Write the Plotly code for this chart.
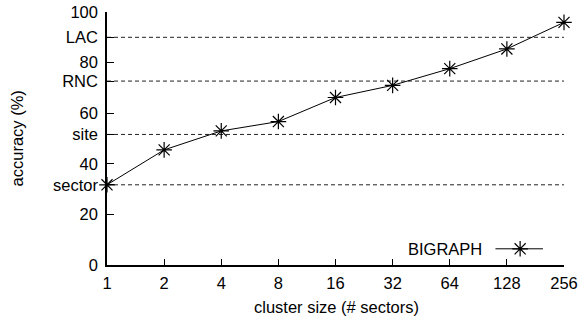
import plotly.graph_objects as go

categories = ["1", "2", "4", "8", "16", "32", "64", "128", "256"]
bigraph = [31.7, 45.5, 53.0, 56.7, 66.2, 71.0, 77.6, 85.4, 95.9]
ref_names = ["sector", "site", "RNC", "LAC"]
ref_values = [31.7, 51.6, 72.7, 90.0]
num_ticks = [0, 20, 40, 60, 80, 100]

FONT = "Liberation Sans, Arial, sans-serif"
FS = 16.5
xi = list(range(len(categories)))

fig = go.Figure()
for name, v in zip(ref_names, ref_values):
    fig.add_trace(go.Scatter(x=[xi[0], xi[-1]], y=[v, v], mode="lines",
                             line=dict(color="#222", width=1, dash="4px,3px"),
                             showlegend=False, hoverinfo="skip"))
star = dict(symbol="asterisk-open", size=13, color="black",
            line=dict(color="black", width=1.2))
fig.add_trace(go.Scatter(x=xi, y=bigraph, mode="lines+markers", name="BIGRAPH",
                         line=dict(color="black", width=1), marker=star,
                         cliponaxis=False, showlegend=False))
# custom legend sample (text on the left, then line with marker)
fig.add_trace(go.Scatter(x=[0.850, 0.954], y=[0.064, 0.064], mode="lines",
                         line=dict(color="black", width=1), xaxis="x2", yaxis="y2",
                         showlegend=False, hoverinfo="skip"))
fig.add_trace(go.Scatter(x=[0.904], y=[0.064], mode="markers", marker=star,
                         xaxis="x2", yaxis="y2", showlegend=False, hoverinfo="skip"))
fig.add_annotation(text="BIGRAPH", xref="x2", yref="y2", x=0.825, y=0.064,
                   xanchor="right", yanchor="middle", showarrow=False,
                   font=dict(family=FONT, size=FS, color="black"))
# axis titles
fig.add_annotation(text="cluster size (# sectors)", xref="paper", yref="paper",
                   x=0.502, y=-0.166, xanchor="center", yanchor="middle",
                   showarrow=False, font=dict(family=FONT, size=FS, color="black"))
fig.add_annotation(text="accuracy (%)", xref="paper", yref="paper",
                   x=-0.197, y=0.5, xanchor="center", yanchor="middle", textangle=-90,
                   showarrow=False, font=dict(family=FONT, size=FS, color="black"))

tickvals = num_ticks + ref_values
ticktext = [str(t) for t in num_ticks] + ref_names

fig.update_layout(
    width=581, height=322,
    margin=dict(l=107, r=17, t=12, b=57),
    paper_bgcolor="white", plot_bgcolor="white",
    font=dict(family=FONT, size=FS, color="black"),
    xaxis=dict(range=[0, 8], tickvals=xi, ticktext=categories, automargin=False,
               showgrid=False, zeroline=False, showline=True, linecolor="black",
               linewidth=1.5, ticks="inside", ticklen=6, tickcolor="black",
               ticklabelstandoff=2),
    yaxis=dict(range=[0, 100], tickvals=tickvals, ticktext=ticktext, automargin=False,
               showgrid=False, zeroline=False, showline=True, linecolor="black",
               linewidth=1.5, ticks="inside", ticklen=7, tickcolor="black",
               ticklabelstandoff=4),
    xaxis2=dict(range=[0, 1], overlaying="x", visible=False),
    yaxis2=dict(range=[0, 1], overlaying="y", visible=False),
)

fig.write_html("out.html")
